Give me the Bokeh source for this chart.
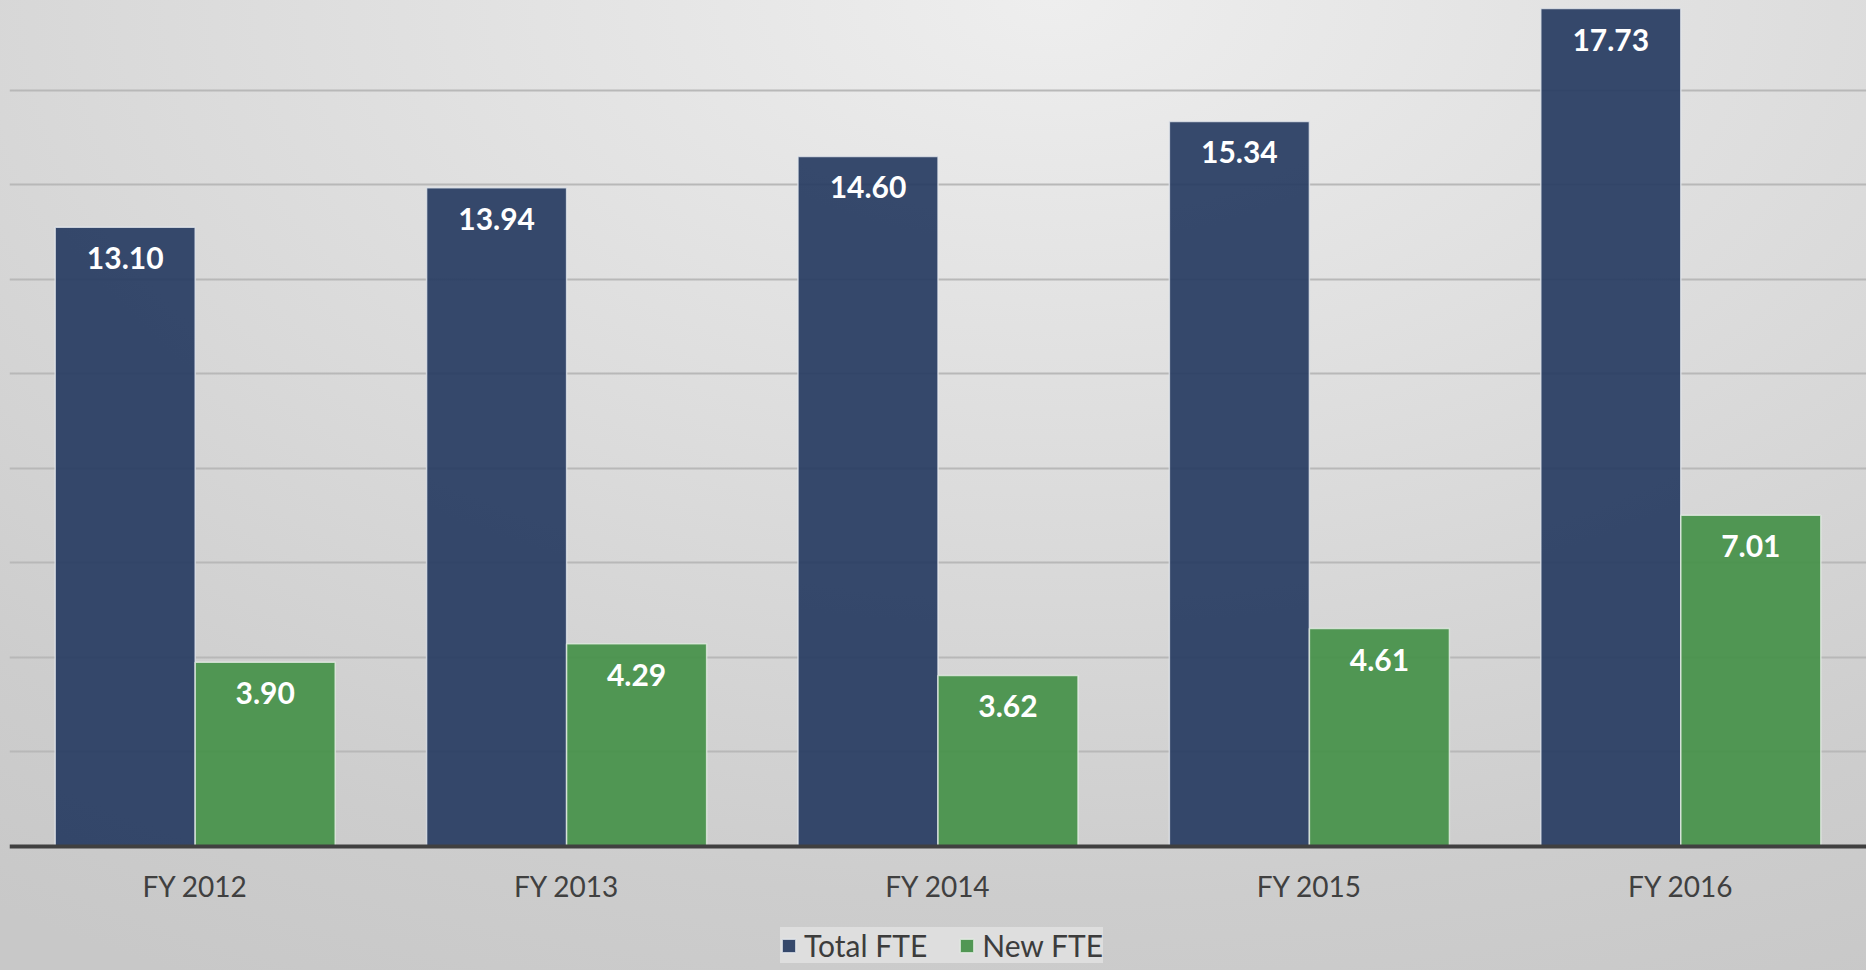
from bokeh.plotting import figure
from bokeh.models import (ColumnDataSource, FactorRange, Legend, LegendItem,
                          InlineStyleSheet, FixedTicker)
from bokeh.core.properties import value
from bokeh.transform import dodge
from bokeh.embed import file_html
from bokeh.resources import INLINE

# ---- data ----
years = ["FY 2012", "FY 2013", "FY 2014", "FY 2015", "FY 2016"]
total_fte = [13.10, 13.94, 14.60, 15.34, 17.73]
new_fte = [3.90, 4.29, 3.62, 4.61, 7.01]
series_names = ["Total FTE", "New FTE"]
grid_ticks = [2, 4, 6, 8, 10, 12, 14, 16]

src = ColumnDataSource(dict(
    year=years,
    total=total_fte,
    new=new_fte,
    total_lbl=[f"{v:.2f}" for v in total_fte],
    new_lbl=[f"{v:.2f}" for v in new_fte],
))

FONT = "Lato"
BAR_W = 0.377
OFF = BAR_W / 2
Y_TOP = 17.9
Y_BOTTOM = -Y_TOP * (970 - 846) / 846   # room below baseline for labels & legend

p = figure(x_range=FactorRange(factors=years, range_padding=0),
           y_range=(Y_BOTTOM, Y_TOP),
           frame_width=1857, frame_height=970,
           output_backend="svg", toolbar_location=None,
           min_border_left=9, min_border_right=0, min_border_top=0,
           min_border_bottom=0)

p.stylesheets = [InlineStyleSheet(css=":host { background: radial-gradient(ellipse 1700px 1000px at 1050px 0px, #eeeeee 0%, #d8d8d8 60%, #cdcdcd 90%, #c8c8c8 110%); }")]
p.border_fill_color = None
p.background_fill_color = None
p.outline_line_color = None

p.yaxis.visible = False
p.xgrid.visible = False
p.ygrid.ticker = FixedTicker(ticks=grid_ticks)
p.ygrid.grid_line_color = "#b8b8b8"
p.ygrid.grid_line_width = 2

xa = p.xaxis[0]
xa.fixed_location = 0
xa.axis_line_color = "#404040"
xa.axis_line_width = 4
xa.major_tick_line_color = None
xa.minor_tick_line_color = None
xa.major_label_text_font = FONT
xa.major_label_text_font_size = "28px"
xa.major_label_text_color = "#404040"
xa.major_label_standoff = 16

r1 = p.vbar(x=dodge("year", -OFF, range=p.x_range), top="total", width=BAR_W,
            source=src, fill_color="#283c62", fill_alpha=0.93,
            line_color="#e4e7ec", line_width=1.5, line_alpha=0.8)
r2 = p.vbar(x=dodge("year", OFF, range=p.x_range), top="new", width=BAR_W,
            source=src, fill_color="#469149", fill_alpha=0.93,
            line_color="#e4ece4", line_width=1.5, line_alpha=0.8)

for col, lbl, off in (("total", "total_lbl", -OFF), ("new", "new_lbl", OFF)):
    p.text(x=dodge("year", off, range=p.x_range), y=col, text=lbl,
           source=src, y_offset=31, text_align="center",
           text_baseline="middle", text_color="white",
           text_font=value(FONT), text_font_style="bold",
           text_font_size="30px")

legend = Legend(items=[LegendItem(label=series_names[0], renderers=[r1]),
                       LegendItem(label=series_names[1], renderers=[r2])],
                orientation="horizontal", location=(771, 7),
                glyph_width=17, glyph_height=17,
                label_text_font=FONT, label_text_font_size="30px",
                label_text_color="#3c3c3c",
                spacing=31, label_standoff=7, padding=16, margin=0,
                background_fill_color="#dedede", background_fill_alpha=1.0,
                border_line_color=None)
p.add_layout(legend)

open("out.html", "w").write(file_html(p, INLINE))
